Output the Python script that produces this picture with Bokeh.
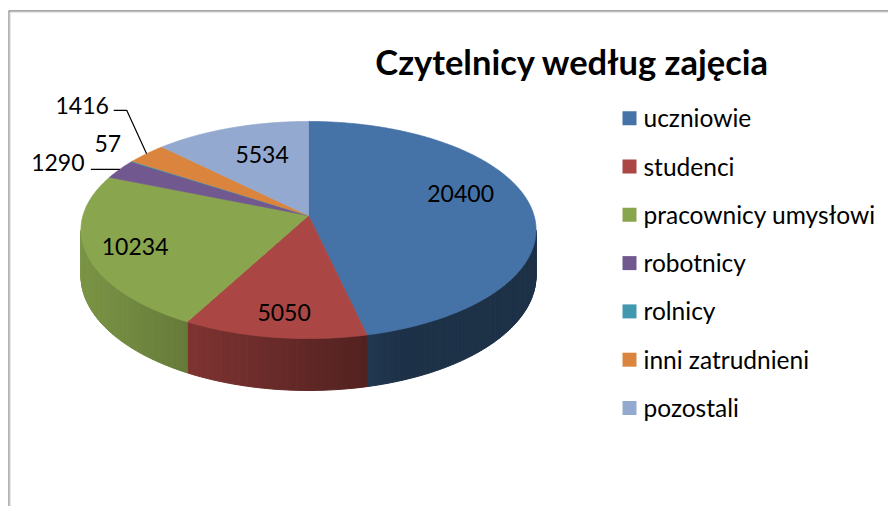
import numpy as np
from bokeh.plotting import figure
from bokeh.models import Range1d
from bokeh.core.properties import value
from bokeh.embed import file_html
from bokeh.resources import INLINE

# ---------------- data ----------------
title_text = "Czytelnicy według zajęcia"
categories = ["uczniowie", "studenci", "pracownicy umysłowi", "robotnicy",
              "rolnicy", "inni zatrudnieni", "pozostali"]
counts = [20400, 5050, 10234, 1290, 57, 1416, 5534]
colors = ["#4572A7", "#AA4643", "#89A54E", "#71588F", "#4198AF", "#DB843D", "#93A9CF"]

# ---------------- layout (pixel space) ----------------
W, Hh = 888, 506
CX, CY = 308.0, 215.0        # apex of the top face
A, B, K = 225.5, 106.6, 0.1336
DEPTH = 45.0
FONT = "Lato"

# label placement per slice: (radius factor, dx, dy)
label_place = [(0.686, 0, -13.8), (0.815, 3, 0), (0.788, 0, 1),
               (1.0, -62, -6.5), (1.0, -24.2, -17.7), (1.0, -64.4, -48.4),
               (0.572, 0, -8.6)]

def proj(phi_deg, r=1.0):
    phi = np.radians(phi_deg)
    u = r * np.sin(phi)
    v = r * np.cos(phi)
    w = 1 + K * v
    return CX + A * u / w, CY - B * v / w

def proj_bottom(phi_deg):
    x, y = proj(phi_deg)
    v = np.cos(np.radians(phi_deg))
    return x, y + DEPTH / (1 + K * v)

def shade(hexcol, f):
    h = hexcol.lstrip("#")
    r, g, b = (int(h[i:i + 2], 16) for i in (0, 2, 4))
    return "#%02x%02x%02x" % tuple(int(max(0, min(255, c * f))) for c in (r, g, b))

total = float(sum(counts))
edges = np.concatenate([[0.0], np.cumsum(counts) / total * 360.0])

p = figure(width=W, height=Hh, output_backend="svg", toolbar_location=None,
           x_range=Range1d(0, W), y_range=Range1d(Hh, 0),
           min_border=0, outline_line_color=None, background_fill_color="white")
p.axis.visible = False
p.grid.visible = False

# chart border (top + left visible)
p.line([8.5, 8.5, W + 5], [Hh + 5, 10.5, 10.5], line_color="#8a8a8a", line_width=1.3)
p.line([9.5, 9.5, W + 5], [Hh + 5, 11.5, 11.5], line_color="#d0d0d0", line_width=1)

# ---------------- side walls ----------------
phi_r = np.degrees(np.arccos(-K))
phi_l = 360.0 - phi_r
sx, sy, sc = [], [], []
for i in range(len(counts)):
    a0, a1 = max(edges[i], phi_r), min(edges[i + 1], phi_l)
    if a1 <= a0:
        continue
    n = max(2, int(np.ceil((a1 - a0) / 1.0)))
    ang = np.linspace(a0, a1, n + 1)
    for j in range(n):
        x0, y0 = proj(ang[j]); x1, y1 = proj(ang[j + 1])
        bx0, by0 = proj_bottom(ang[j]); bx1, by1 = proj_bottom(ang[j + 1])
        xm = (x0 + x1) / 2
        f = float(np.clip(0.90 - 0.00145 * (xm - 80), 0.43, 1.0))
        sx.append([x0, x1, bx1, bx0]); sy.append([y0, y1, by1, by0])
        sc.append(shade(colors[i], f))
p.patches(sx, sy, fill_color=sc, line_color=sc, line_width=1)

# ---------------- top face ----------------
tx, ty = [], []
for i in range(len(counts)):
    a0, a1 = edges[i], edges[i + 1]
    n = max(2, int(np.ceil((a1 - a0) / 0.5)))
    ang = np.linspace(a0, a1, n + 1)
    xs, ys = proj(ang)
    tx.append([CX] + list(xs)); ty.append([CY] + list(ys))
p.patches(tx, ty, fill_color=colors, line_color=colors, line_width=0.7)

# ---------------- data labels ----------------
LSIZE = 23
lx, ly, lt = [], [], []
rims = []
for i, c in enumerate(counts):
    mid = (edges[i] + edges[i + 1]) / 2
    r, dx, dy = label_place[i]
    x, y = proj(mid, r)
    rims.append(proj(mid, 1.0))
    lx.append(float(x + dx)); ly.append(float(y + dy)); lt.append(str(c))
p.text(lx, ly, text=lt, text_font=value(FONT), text_font_size="%dpx" % LSIZE,
       text_align="center", text_baseline="middle", text_color="black")

# leader lines (robotnicy, inni zatrudnieni)
rx, ry = rims[3]
p.line([lx[3] + 33, rx], [ry, ry], line_color="black", line_width=1.2)
ox, oy = rims[5]
p.line([lx[5] + 31.5, lx[5] + 44.5, ox], [ly[5] + 5, ly[5] + 5, oy],
       line_color="black", line_width=1.2)

# ---------------- title ----------------
p.text([572], [60.5], text=[title_text], text_font=value(FONT), text_font_size="34.5px",
       text_font_style="bold", text_align="center", text_baseline="middle",
       text_color="black")

# ---------------- legend ----------------
leg_y = [117.7 + 48.3 * i for i in range(len(categories))]
p.rect([629] * len(categories), leg_y, width=14, height=14, fill_color=colors,
       line_color=None)
p.text([643] * len(categories), [y - 0.5 for y in leg_y], text=categories,
       text_font=value(FONT), text_font_size="24.5px", text_align="left",
       text_baseline="middle", text_color="black")

open("out.html", "w").write(file_html(p, INLINE))
